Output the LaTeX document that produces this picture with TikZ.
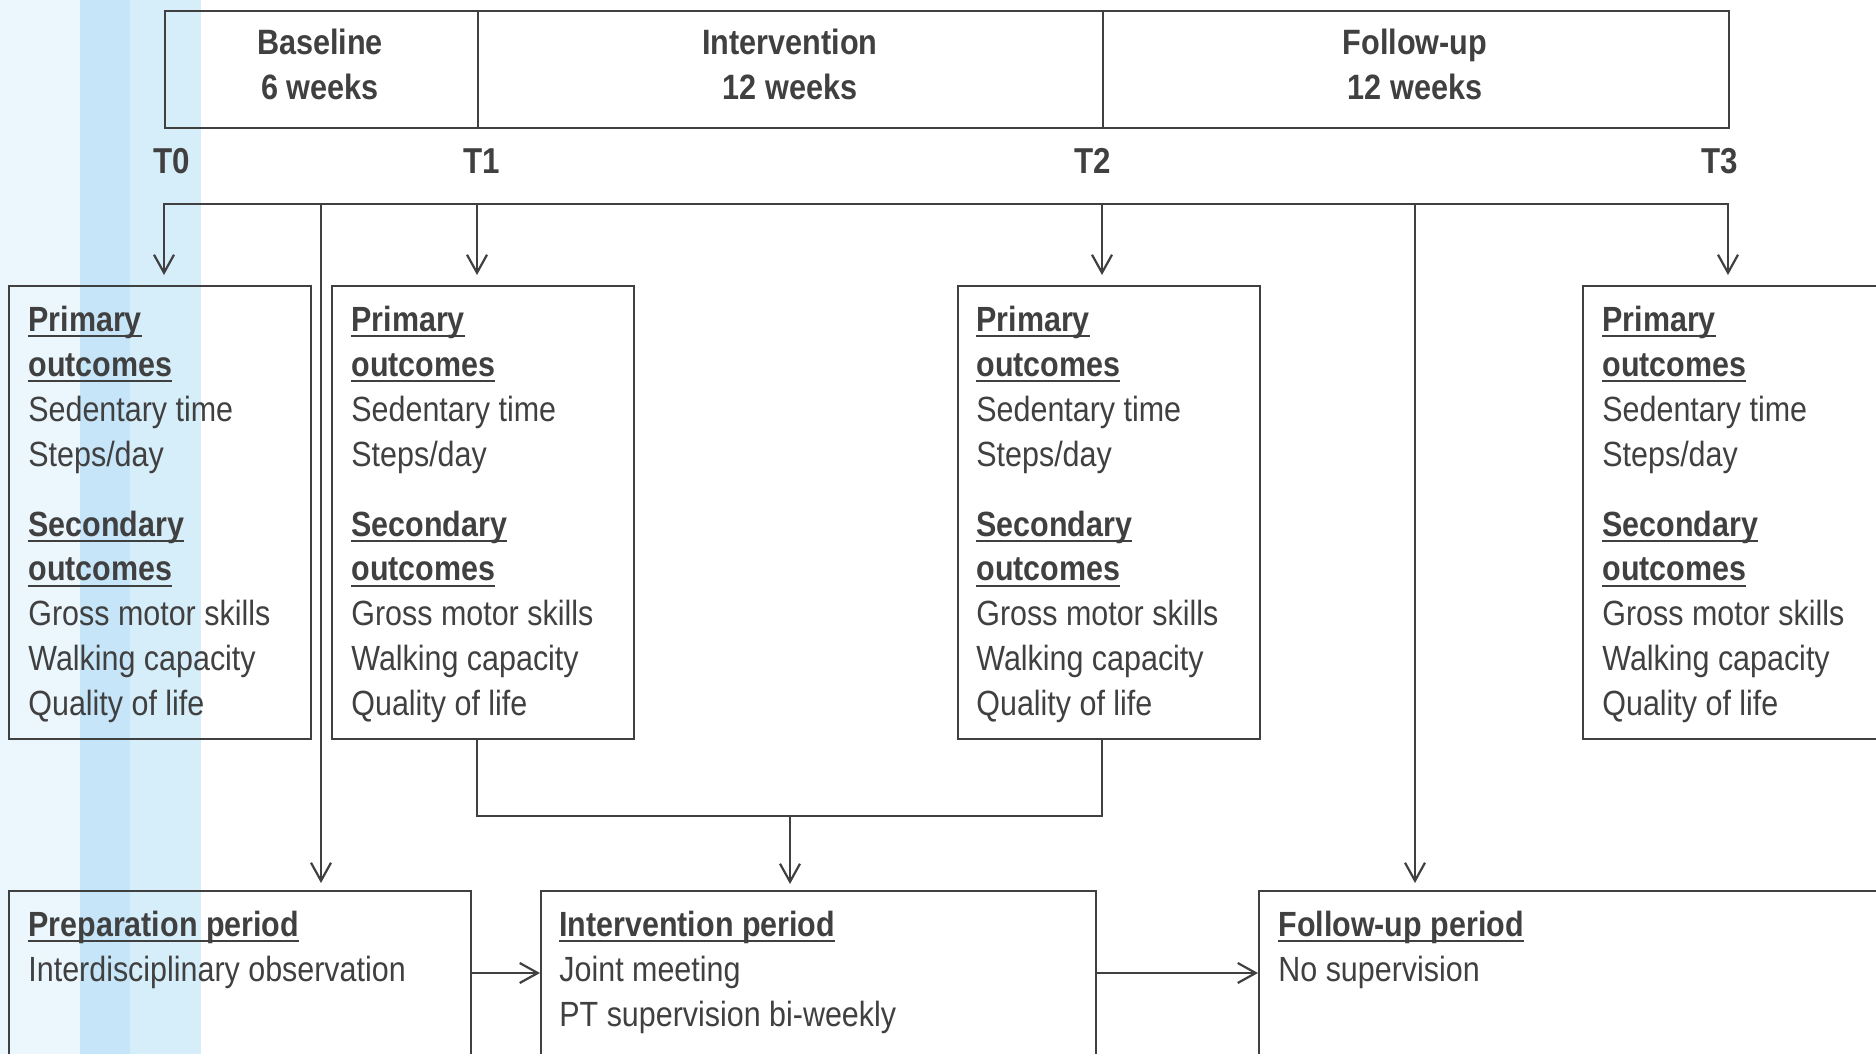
\documentclass[tikz,border=0pt]{standalone}
\usepackage{fontspec}
\setmainfont{Liberation Sans}[FakeStretch=0.87]
\usetikzlibrary{arrows.meta}
\definecolor{ink}{HTML}{404040}
\definecolor{bandA}{HTML}{EBF6FD}
\definecolor{bandB}{HTML}{C6E5F9}
\definecolor{bandC}{HTML}{D6EDFA}
\newcommand\ulx[1]{\setbox0=\hbox{#1}\rlap{\lower2pt\hbox{\vrule width\wd0 height0pt depth1pt}}\box0}
\newcommand\hd[1]{\ulx{\bfseries #1}}
\newcommand\colL[1]{\vtop{\halign{##\hfil\cr#1\crcr}}}
\newcommand\colC[1]{\vtop{\halign{\hfil##\hfil\cr#1\crcr}}}
\newcommand\outc{\colL{\hd{Primary}\cr\hd{outcomes}\cr Sedentary time\cr Steps/day\cr\noalign{\vskip12.5pt}\hd{Secondary}\cr\hd{outcomes}\cr Gross motor skills\cr Walking capacity\cr Quality of life}}
\tikzset{
  box/.style={draw=ink, line width=1.2pt, rectangle, inner sep=0pt, anchor=north west},
  txt/.style={inner sep=0pt, text=ink, font=\fontsize{17.5}{22.5}\selectfont, anchor=base west},
  head/.style={inner sep=0pt, text=ink, font=\fontsize{17.6}{22.5}\selectfont\bfseries, anchor=base},
  tlab/.style={inner sep=0pt, text=ink, font=\fontsize{18}{22}\selectfont\bfseries, anchor=base},
  conn/.style={draw=ink, line width=1.1pt},
  arr/.style={draw=ink, line width=1.1pt, -{Straight Barb[length=9pt,width=10pt]}}
}
\begin{document}
\begin{tikzpicture}[x=0.5pt,y=-0.5pt]
\useasboundingbox (0,0) rectangle (1876,1054);
\clip (0,0) rectangle (1876,1054);
\fill[white] (0,0) rectangle (1876,1054);
\fill[bandA] (0,0) rectangle (80,1054);
\fill[bandB] (80,0) rectangle (130,1054);
\fill[bandC] (130,0) rectangle (201,1054);

% header
\node[box, minimum width=156.5pt, minimum height=58.5pt] (hb) at (164,10) {};
\node[box, minimum width=312.5pt, minimum height=58.5pt] (hi) at (477,10) {};
\node[box, minimum width=313pt, minimum height=58.5pt] (hf) at (1102,10) {};
\node[head] (hbt) at (320,55) {\colC{Baseline\cr 6 weeks}};
\node[head] (hit) at (790,55) {\colC{Intervention\cr 12 weeks}};
\node[head] (hft) at (1415,55) {\colC{Follow-up\cr 12 weeks}};

% time labels
\node[tlab] (t0) at (172,174) {T0};
\node[tlab] (t1) at (482,174) {T1};
\node[tlab] (t2) at (1093,174) {T2};
\node[tlab] (t3) at (1720,174) {T3};

% outcome boxes
\node[box, minimum width=151pt, minimum height=226.5pt] (o1) at (8,285) {};
\node[box, minimum width=151pt, minimum height=226.5pt] (o2) at (331,285) {};
\node[box, minimum width=151pt, minimum height=226.5pt] (o3) at (957,285) {};
\node[box, minimum width=151pt, minimum height=226.5pt] (o4) at (1582,285) {};
\node[txt] (o1t) at (28,331) {\outc};
\node[txt] (o2t) at (351,331) {\outc};
\node[txt] (o3t) at (976,331) {\outc};
\node[txt] (o4t) at (1602,331) {\outc};

% period boxes
\node[box, minimum width=231pt, minimum height=150pt] (prep) at (8,890) {};
\node[box, minimum width=277.5pt, minimum height=150pt] (int) at (540,890) {};
\node[box, minimum width=350pt, minimum height=150pt] (fol) at (1258,890) {};
\node[txt] (prept) at (28,936) {\colL{\hd{Preparation period}\cr Interdisciplinary observation}};
\node[txt] (intt) at (559,936) {\colL{\hd{Intervention period}\cr Joint meeting\cr PT supervision bi-weekly}};
\node[txt] (folt) at (1278,936) {\colL{\hd{Follow-up period}\cr No supervision}};

% rail
\coordinate (r0) at (164,204);
\coordinate (rp) at (321,204);
\coordinate (r1) at (477,204);
\coordinate (r2) at (1102,204);
\coordinate (rf) at (1415,204);
\coordinate (r3) at (1728,204);
\draw[arr, shorten >=5pt] (r1) -- (r0) -- (r0 |- o1.north);
\draw[arr, shorten >=5pt] (r1) -- (r3) -- (r3 |- o4.north);
\draw[arr, shorten >=5pt] (r1) -- (r1 |- o2.north);
\draw[arr, shorten >=5pt] (r2) -- (r2 |- o3.north);
\draw[arr, shorten >=3.5pt] (rp) -- (rp |- prep.north);
\draw[arr, shorten >=3.5pt] (rf) -- (rf |- fol.north);

% bracket under T1/T2 boxes
\coordinate (j1) at (477,816);
\coordinate (j2) at (1102,816);
\coordinate (jm) at (790,816);
\draw[conn] (j1 |- o2.south) -- (j1) -- (j2) -- (j2 |- o3.south);
\draw[arr, shorten >=3pt] (jm) -- (jm |- int.north);

% horizontal arrows
\coordinate (hl) at (0,973);
\draw[arr] (prep.east |- hl) -- (int.west |- hl);
\draw[arr] (int.east |- hl) -- (fol.west |- hl);
\end{tikzpicture}
\end{document}
